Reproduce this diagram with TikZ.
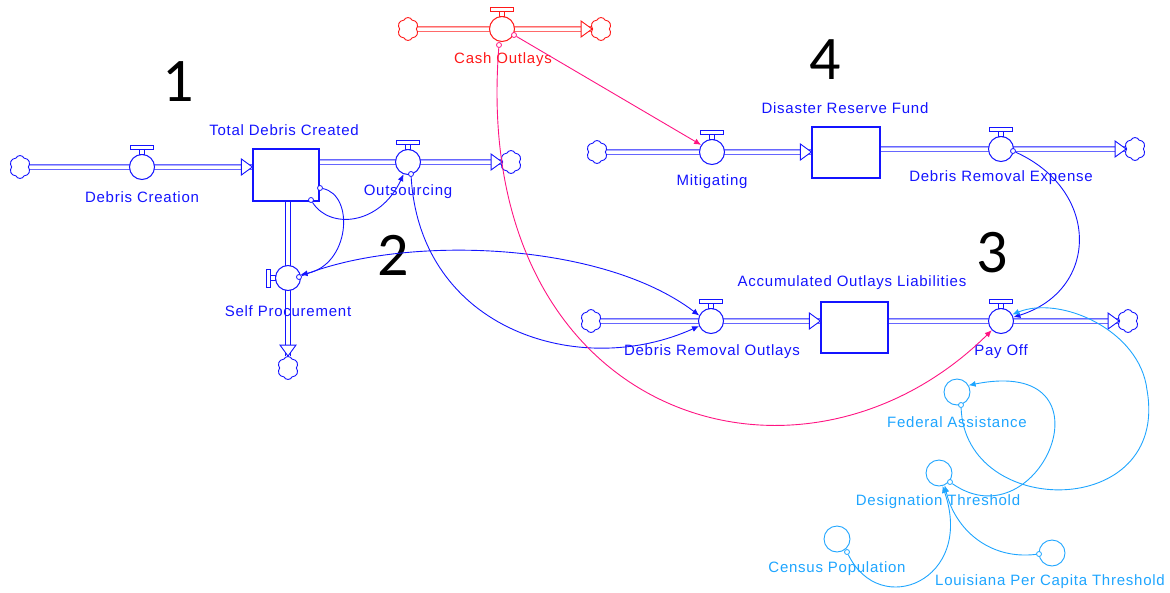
\documentclass[tikz,border=0pt]{standalone}
\usepackage{fontspec}
\setmainfont{Liberation Sans}
\newfontfamily\lblfont[LetterSpace=5]{Liberation Sans}
\newfontfamily\numfont{Carlito}
\usetikzlibrary{shapes.symbols,arrows.meta,backgrounds}
\definecolor{sblue}{RGB}{20,20,255}
\definecolor{sred}{RGB}{255,25,25}
\definecolor{spink}{RGB}{255,20,130}
\definecolor{slight}{RGB}{30,165,255}
\newcommand\valvetop[2]{%
  \draw[#2,line width=0.9pt,fill=white] ([xshift=-2.5pt]#1.north) rectangle ([xshift=2.5pt,yshift=4.5pt]#1.north);
  \draw[#2,line width=0.9pt,fill=white] ([xshift=-11.5pt,yshift=4.5pt]#1.north) rectangle ([xshift=11.5pt,yshift=9pt]#1.north);}
\tikzset{
  pipe/.style={double=white, double distance=3.5pt, line width=0.9pt},
  valve/.style={circle, fill=white, minimum size=25pt, inner sep=0pt, line width=1pt},
  stockbox/.style={fill=white, minimum width=66pt, minimum height=52pt, inner sep=0pt, line width=1.2pt},
  cloudsh/.style={cloud, cloud puffs=6, cloud puff arc=130, aspect=0.9, fill=white, minimum width=21pt, minimum height=23pt, inner sep=0pt, line width=0.9pt},
  aux/.style={circle, fill=white, minimum size=26pt, inner sep=0pt, line width=0.9pt},
  dot/.style={circle, fill=white, minimum size=5pt, inner sep=0pt, line width=0.8pt},
  lbl/.style={font=\lblfont\fontsize{15}{18}\selectfont, inner sep=0pt},
  bignum/.style={font=\numfont\fontsize{62}{70}\selectfont, inner sep=0pt, text=black},
  conn/.style={line width=0.9pt, -{Latex[length=7pt,width=6pt]}},
  tip/.style={line width=0.9pt, fill=white}
}
\begin{document}
\begin{tikzpicture}[x=1pt,y=-1pt]
\useasboundingbox (0,0) rectangle (1170,592);

% ---------- stocks ----------
\node[stockbox,draw=sblue] (tdc) at (286,175) {};
\node[stockbox,draw=sblue,minimum width=68pt,minimum height=51pt] (drf) at (846,152.5) {};
\node[stockbox,draw=sblue,minimum width=67pt,minimum height=51pt] (aol) at (854.5,327.5) {};

% ---------- valves ----------
\node[valve,draw=sblue] (dc)  at (142,167) {};
\node[valve,draw=sblue] (out) at (408,162) {};
\node[valve,draw=sblue] (sp)  at (288,278) {};
\node[valve,draw=sred]  (co)  at (502,29) {};
\node[valve,draw=sblue] (mit) at (712,152) {};
\node[valve,draw=sblue] (dre) at (1001,149) {};
\node[valve,draw=sblue] (dro) at (711,321) {};
\node[valve,draw=sblue] (po)  at (1001,321) {};

% ---------- clouds ----------
\node[cloudsh,draw=sblue] (c1) at (20,167) {};
\node[cloudsh,draw=sblue] (c2) at (511,162) {};
\node[cloudsh,draw=sblue] (c3) at (288,368) {};
\node[cloudsh,draw=sred]  (c4) at (408,29) {};
\node[cloudsh,draw=sred]  (c5) at (601,29) {};
\node[cloudsh,draw=sblue] (c6) at (597,152) {};
\node[cloudsh,draw=sblue] (c7) at (1135,149) {};
\node[cloudsh,draw=sblue] (c8) at (591,321) {};
\node[cloudsh,draw=sblue] (c9) at (1128,321) {};

% ---------- auxiliaries ----------
\node[aux,draw=slight] (fa) at (957,392) {};
\node[aux,draw=slight] (dt) at (939,473) {};
\node[aux,draw=slight] (cp) at (837,539) {};
\node[aux,draw=slight] (lp) at (1052,553) {};

% ---------- pipes ----------
\begin{scope}[on background layer]
  \draw[pipe,sblue] (c1.east) -- (tdc.west |- dc);
  \draw[pipe,sblue] (tdc.east |- out) -- (c2.west);
  \draw[pipe,sblue] (tdc.south -| sp) -- (c3.north);
  \draw[pipe,sred]  (c4.east) -- (c5.west);
  \draw[pipe,sblue] (c6.east) -- (drf.west |- mit);
  \draw[pipe,sblue] (drf.east |- dre) -- (c7.west);
  \draw[pipe,sblue] (c8.east) -- (aol.west |- dro);
  \draw[pipe,sblue] (aol.east |- po) -- (c9.west);
\end{scope}

% pipe arrowheads
\draw[sblue,tip] (tdc.west |- dc) -- ++(-11,-8) -- ++(0,16) -- cycle;
\draw[sblue,tip] (c2.west) -- ++(-11,-8) -- ++(0,16) -- cycle;
\draw[sblue,tip] (c3.north) -- ++(-8,-11) -- ++(16,0) -- cycle;
\draw[sred,tip]  (c5.west) -- ++(-11,-8) -- ++(0,16) -- cycle;
\draw[sblue,tip] (drf.west |- mit) -- ++(-11,-8) -- ++(0,16) -- cycle;
\draw[sblue,tip] (c7.west) -- ++(-11,-8) -- ++(0,16) -- cycle;
\draw[sblue,tip] (aol.west |- dro) -- ++(-11,-8) -- ++(0,16) -- cycle;
\draw[sblue,tip] (c9.west) -- ++(-11,-8) -- ++(0,16) -- cycle;

% valve handles
\valvetop{dc}{sblue}
\valvetop{out}{sblue}
\valvetop{co}{sred}
\valvetop{mit}{sblue}
\valvetop{dre}{sblue}
\valvetop{dro}{sblue}
\valvetop{po}{sblue}
\draw[sblue,line width=0.9pt,fill=white] ([yshift=-2.5pt]sp.west) rectangle ([xshift=-4.5pt,yshift=2.5pt]sp.west);
\draw[sblue,line width=0.9pt,fill=white] ([xshift=-4.5pt,yshift=-9pt]sp.west) rectangle ([xshift=-9pt,yshift=9pt]sp.west);

% ---------- labels ----------
\node[lbl,text=sblue] (l_tdc) at (284,130) {Total Debris Created};
\node[lbl,text=sblue] (l_dc)  at (142,197) {Debris Creation};
\node[lbl,text=sblue] (l_out) at (408,192) {Outsourcing};
\node[lbl,text=sblue] (l_sp)  at (288,311) {Self Procurement};
\node[lbl,text=sred]  (l_co)  at (503,60) {Cash Outlays};
\node[lbl,text=sblue] (l_drf) at (845,108) {Disaster Reserve Fund};
\node[lbl,text=sblue] (l_mit) at (712,182) {Mitigating};
\node[lbl,text=sblue] (l_dre) at (1001,178) {Debris Removal Expense};
\node[lbl,text=sblue] (l_aol) at (852,283) {Accumulated Outlays Liabilities};
\node[lbl,text=sblue] (l_dro) at (712,352) {Debris Removal Outlays};
\node[lbl,text=sblue] (l_po)  at (1001,352) {Pay Off};
\node[lbl,text=slight] (l_fa) at (957,422) {Federal Assistance};
\node[lbl,text=slight] (l_dt) at (938,502) {Designation Threshold};
\node[lbl,text=slight] (l_cp) at (837,569) {Census Population};
\node[lbl,text=slight] (l_lp) at (1050,582) {Louisiana Per Capita Threshold};

\node[bignum] (n1) at (178,82) {1};
\node[bignum] (n2) at (393,255) {2};
\node[bignum] (n3) at (992,253) {3};
\node[bignum] (n4) at (825,60) {4};

% ---------- connectors ----------
\node[dot,draw=sblue] (d_tdc1) at (320,188) {};
\node[dot,draw=sblue] (d_tdc2) at (311,200) {};
\node[dot,draw=sblue] (d_out)  at (411,174) {};
\node[dot,draw=sblue] (d_sp)   at (299,277) {};
\node[dot,draw=sblue] (d_dre)  at (1013,151) {};
\node[dot,draw=spink] (d_co1)  at (499,45) {};
\node[dot,draw=spink] (d_co2)  at (514,35) {};
\node[dot,draw=slight] (d_fa)  at (961,405) {};
\node[dot,draw=slight] (d_dt)  at (950,482) {};
\node[dot,draw=slight] (d_cp)  at (847,552) {};
\node[dot,draw=slight] (d_lp)  at (1039,554) {};
\coordinate (fa_via) at (1147,390);

\draw[conn,sblue] (d_tdc2) .. controls (330,230) and (380,225) .. (out.250);
\draw[conn,sblue] (d_tdc1) .. controls (355,195) and (350,265) .. (sp.15);
\draw[conn,sblue] (d_sp) .. controls (400,235) and (600,240) .. (dro.155);
\draw[conn,sblue] (d_out) .. controls (420,330) and (580,380) .. (dro.203);
\draw[conn,sblue] (d_dre) .. controls (1100,190) and (1100,290) .. (po.17);

\draw[conn,spink] (d_co2) -- (mit.147);
\draw[conn,spink] (d_co1) .. controls (470,420) and (800,520) .. (po.225);

\draw[conn,slight] (d_fa) .. controls (965,520) and (1170,520) .. (fa_via) .. controls (1140,330) and (1060,295) .. (po.30);
\draw[conn,slight] (d_dt) .. controls (1040,545) and (1120,355) .. (fa.30);
\draw[conn,slight] (d_cp) .. controls (880,620) and (975,580) .. (dt.285);
\draw[conn,slight] (d_lp) .. controls (990,560) and (955,530) .. (dt.295);
\end{tikzpicture}
\end{document}
